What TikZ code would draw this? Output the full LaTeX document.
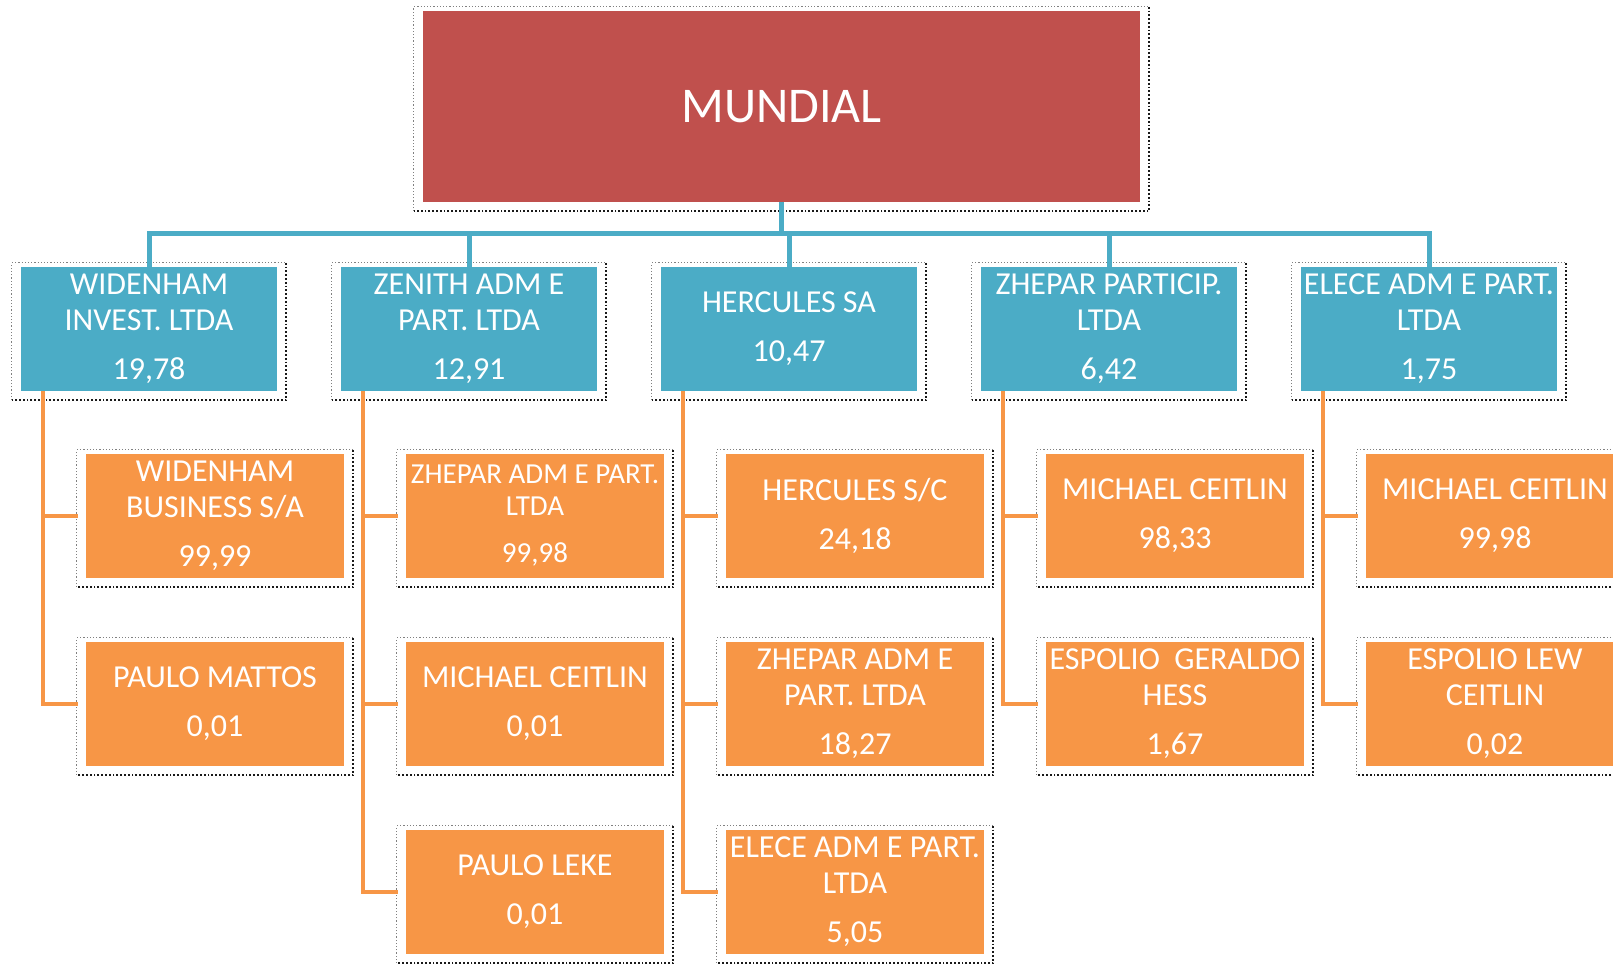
\documentclass[tikz,border=0pt]{standalone}
\usepackage{fontspec}
\setmainfont{Carlito}
\definecolor{mred}{HTML}{C0504D}
\definecolor{mblue}{HTML}{4BACC6}
\definecolor{morange}{HTML}{F79646}
\tikzset{
  topbox/.style={fill=mred, minimum width=717pt, minimum height=191pt, inner sep=0pt, text=white, font=\fontsize{50}{56}\selectfont},
  bluebox/.style={fill=mblue, minimum width=256pt, minimum height=124pt, inner sep=0pt, text=white, align=center, font=\fontsize{32}{36}\selectfont},
  orbox/.style={fill=morange, minimum width=258pt, minimum height=124pt, inner sep=0pt, text=white, align=center, font=\fontsize{32}{36}\selectfont},
  smalltext/.style={font=\fontsize{29}{32}\selectfont},
  bline/.style={draw=mblue, line width=5pt},
  oline/.style={draw=morange, line width=4pt},
  frlight/.style={draw=black!50, dotted, line width=1.2pt},
  frdark/.style={draw=black!90, dotted, line width=1.8pt},
}
\newcommand\myboxframe[1]{%
  \draw[frlight] ([xshift=-9pt,yshift=-9pt]#1.south west) |- ([xshift=9pt,yshift=4pt]#1.north east);
  \draw[frdark] ([xshift=9pt,yshift=4pt]#1.north east) |- ([xshift=-9pt,yshift=-9pt]#1.south west);
}
\begin{document}
\begin{tikzpicture}[x=1pt,y=-1pt]
\useasboundingbox (0,0) rectangle (1613,964);
% top
\node[topbox] (M) at (781.5,106.5) {MUNDIAL};
% level 1
\node[bluebox] (b1) at (149,329) {WIDENHAM\\INVEST. LTDA\\[13pt]19,78};
\node[bluebox] (b2) at (469,329) {ZENITH ADM E\\PART. LTDA\\[13pt]12,91};
\node[bluebox] (b3) at (789,329) {HERCULES SA\\[13pt]10,47};
\node[bluebox] (b4) at (1109,329) {ZHEPAR PARTICIP.\\LTDA\\[13pt]6,42};
\node[bluebox] (b5) at (1429,329) {ELECE ADM E PART.\\LTDA\\[13pt]1,75};
% level 2
\node[orbox] (o11) at (215,516) {WIDENHAM\\BUSINESS S/A\\[13pt]99,99};
\node[orbox] (o12) at (215,704) {PAULO MATTOS\\[13pt]0,01};
\node[orbox,smalltext] (o21) at (535,516) {ZHEPAR ADM E PART.\\LTDA\\[15pt]99,98};
\node[orbox] (o22) at (535,704) {MICHAEL CEITLIN\\[13pt]0,01};
\node[orbox] (o23) at (535,892) {PAULO LEKE\\[13pt]0,01};
\node[orbox] (o31) at (855,516) {HERCULES S/C\\[13pt]24,18};
\node[orbox] (o32) at (855,704) {ZHEPAR ADM E\\PART. LTDA\\[13pt]18,27};
\node[orbox] (o33) at (855,892) {ELECE ADM E PART.\\LTDA\\[13pt]5,05};
\node[orbox] (o41) at (1175,516) {MICHAEL CEITLIN\\[13pt]98,33};
\node[orbox] (o42) at (1175,704) {ESPOLIO\ \ GERALDO\\HESS\\[13pt]1,67};
\node[orbox] (o51) at (1495,516) {MICHAEL CEITLIN\\[13pt]99,98};
\node[orbox] (o52) at (1495,704) {ESPOLIO LEW\\CEITLIN\\[13pt]0,02};
% frames
\myboxframe{M}
\foreach \n in {b1,b2,b3,b4,b5,o11,o12,o21,o22,o23,o31,o32,o33,o41,o42,o51,o52}{\myboxframe{\n}}
% blue connectors
\coordinate (hub) at (781.5,233);
\draw[bline] (M.south) -- (hub);
\foreach \n in {b1,b2,b3,b4,b5}{\draw[bline] (hub) -| (\n.north);}
% orange connectors
\foreach \c/\r in {1/1,1/2,2/1,2/2,2/3,3/1,3/2,3/3,4/1,4/2,5/1,5/2}{
  \draw[oline] ([xshift=22pt]b\c.south west) |- ([xshift=-8pt]o\c\r.west);
}
\end{tikzpicture}
\end{document}
